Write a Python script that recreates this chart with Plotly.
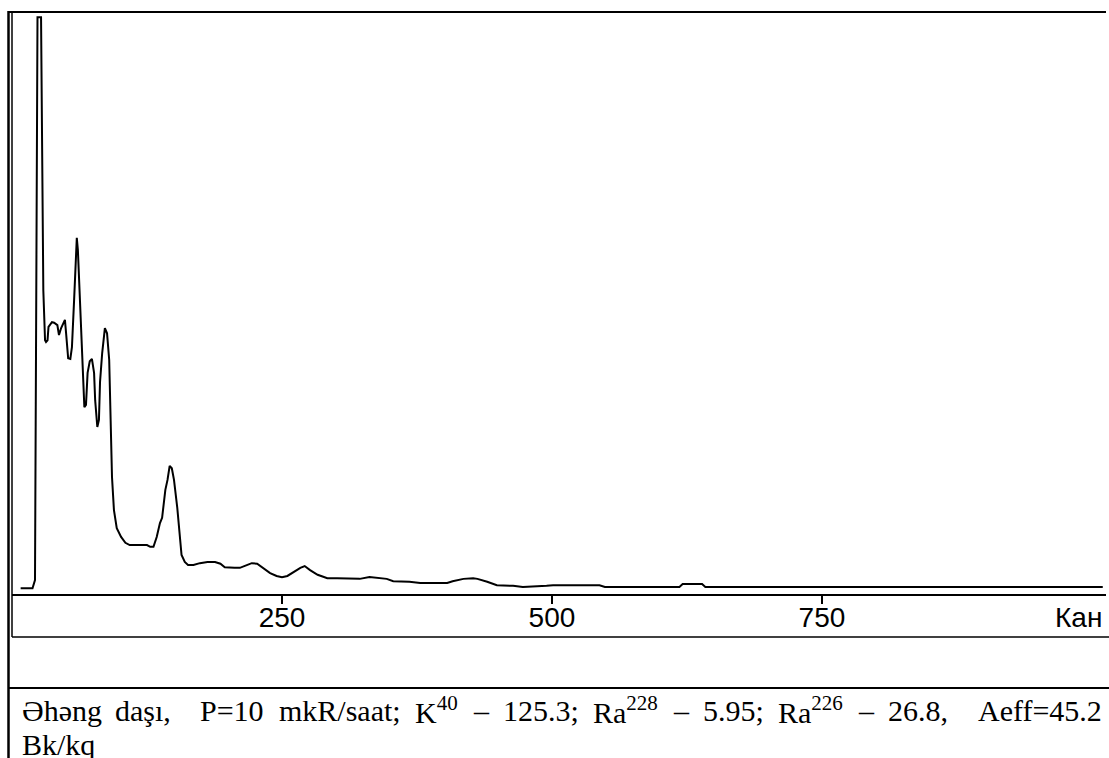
import plotly.graph_objects as go

# ---- data ----
channels = [8, 19, 21.3, 23.6, 26.9, 27.8, 29, 30.6, 31.5, 32.9, 33.8, 37, 39, 42, 43.5, 45.5, 47, 49, 50,
            52, 54, 55.5, 57.5, 59, 60, 61, 63, 65, 66, 67, 68.5, 70, 72, 74, 76, 77, 79, 80.5, 81.5,
            83.5, 86, 88, 90, 91, 92.6, 94.4, 97, 101, 105, 109, 113, 118, 125, 128, 131, 134, 137,
            139, 142, 144, 146, 148, 150, 153, 155, 157, 160, 163, 168, 174, 181, 188, 193, 197, 206,
            211, 218, 222, 227, 232, 239, 245, 250, 255, 259, 267, 271, 276, 283, 292, 301, 313, 322,
            331, 341, 347, 353, 368, 378, 403, 408, 418, 427, 431, 440, 449, 464, 473, 495, 501, 544,
            549, 618, 621, 639, 642, 1010]
counts = [10, 10, 24, 991, 991, 728, 522, 436, 433, 436, 459, 467, 466, 462, 445, 457, 462, 471, 450,
          405, 404, 424, 505, 588, 612, 591, 505, 419, 368, 321, 325, 380, 400, 404, 380, 333, 287, 299, 364,
          414, 457, 448, 402, 333, 201, 144, 113, 98, 88, 84, 84, 85, 84, 81, 81, 98, 122,
          131, 179, 196, 220, 216, 196, 149, 110, 67, 55, 50, 50, 53, 55, 55, 52, 46, 45,
          45, 50, 53, 52, 45, 36, 31, 29, 31, 36, 45, 48, 41, 33, 27, 27, 26, 26,
          29, 27, 26, 22, 21, 19, 19, 22, 26, 27, 26, 21, 15, 14, 12, 14, 15, 15,
          12, 12, 17, 17, 12, 12]

tick_vals = [250, 500, 750]
tick_text = ["250", "500", "750"]
axis_title = "Кан"
caption_words = ["Əhəng", "daşı,", "P=10", "mkR/saat;", "K<sup>40</sup>", "–", "125.3;",
                 "Ra<sup>228</sup>", "–", "5.95;", "Ra<sup>226</sup>", "–", "26.8,", "Aeff=45.2"]
caption_line2 = "Bk/kq"

# ---- layout geometry (pixels) ----
W, H = 1109, 758
L, R, T, B = 12, 1106, 12, 594


def px(x):
    return (x - L) / (R - L)


def py(y):
    return (B - y) / (B - T)


fig = go.Figure()
fig.add_trace(go.Scatter(x=channels, y=counts, mode="lines",
                         line=dict(color="black", width=2), hoverinfo="skip", showlegend=False))

shapes = []
def hline(y, x0, x1, w=2):
    shapes.append(dict(type="line", xref="paper", yref="paper", x0=px(x0), x1=px(x1),
                       y0=py(y), y1=py(y), line=dict(color="black", width=w)))
def vline(x, y0, y1, w=2):
    shapes.append(dict(type="line", xref="paper", yref="paper", x0=px(x), x1=px(x),
                       y0=py(y0), y1=py(y1), line=dict(color="black", width=w)))

hline(12, 8, 1106, 2)      # top of chart frame
vline(8.5, 11, 758, 2.5)   # outer table border
vline(12, 12, 637, 1.5)    # chart frame left
hline(637, 12, 1109, 1.5)  # chart frame bottom
hline(688, 8, 1109, 2)     # caption row top

annotations = [dict(text=axis_title, xref="paper", yref="paper", x=px(1104), y=py(617),
                    xanchor="right", yanchor="middle", showarrow=False,
                    font=dict(family="Liberation Sans, Arial", size=28, color="black"))]

cap_font = dict(family="Liberation Serif, Times New Roman", size=30, color="black")
# left edges (px) of the words of the justified caption line
cap_x = [20, 113, 198, 277, 413, 471, 501, 591, 671, 701, 776, 856, 886, 976]
for w_, x_ in zip(caption_words, cap_x):
    annotations.append(dict(text=w_, xref="paper", yref="paper", x=px(x_), y=py(710),
                            xanchor="left", yanchor="middle", showarrow=False, font=cap_font))
annotations.append(dict(text=caption_line2, xref="paper", yref="paper", x=px(20), y=py(744),
                        xanchor="left", yanchor="middle", showarrow=False, font=cap_font))

fig.update_layout(
    width=W, height=H, autosize=False,
    margin=dict(l=L, r=W - R, t=T, b=H - B, pad=0),
    paper_bgcolor="white", plot_bgcolor="white",
    xaxis=dict(range=[0, 1013], showgrid=False, zeroline=False, showline=True, linecolor="black",
               linewidth=2, ticks="outside", ticklen=8, tickwidth=1.5, tickcolor="black",
               tickvals=tick_vals, ticktext=tick_text, ticklabelstandoff=-11,
               tickfont=dict(family="Liberation Sans, Arial", size=28, color="black")),
    yaxis=dict(range=[0, 1000], showgrid=False, zeroline=False, showline=False,
               showticklabels=False, ticks=""),
    shapes=shapes, annotations=annotations,
)

fig.write_html("out.html", config={"displayModeBar": False},
               post_script="document.body.style.margin='0';document.body.style.overflow='hidden';")
